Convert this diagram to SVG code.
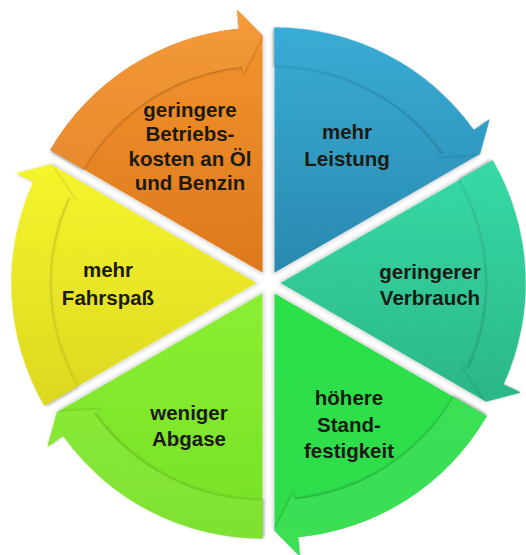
<svg xmlns="http://www.w3.org/2000/svg" width="526" height="555" viewBox="0 0 526 555">
<defs>
<style>
.lbl{font-family:"Liberation Sans",Arial,sans-serif;font-weight:700;font-size:20.5px;fill:#1c1a14;text-anchor:middle}
.band{filter:url(#bandsh)}
.body{filter:url(#shadow)}
</style>
<filter id="shadow" x="-10%" y="-10%" width="120%" height="120%">
<feDropShadow dx="1" dy="2" stdDeviation="2" flood-color="#000" flood-opacity="0.22"/>
</filter>
<filter id="bandsh" x="-10%" y="-10%" width="120%" height="120%">
<feDropShadow dx="0" dy="1.5" stdDeviation="1.2" flood-color="#000" flood-opacity="0.25"/>
</filter>
<path id="wbody" d="M0,0 L-212.176,-122.5 A245,245 0 0 1 -23.482,-243.872 L-25.303,-262.785 L0,-237 Z"/>
<path id="wband" d="M-212.176,-122.5 A245,245 0 0 1 -23.482,-243.872 L-25.303,-262.785 L0,-237 L-19.169,-199.079 L-19.840,-206.047 A207,207 0 0 0 -179.267,-103.5 Z"/>
<linearGradient id="gO" gradientUnits="userSpaceOnUse" x1="-75" y1="-255" x2="-75" y2="-5"><stop offset="0" stop-color="#F4952F"/><stop offset="1" stop-color="#DE781C"/></linearGradient>
<linearGradient id="gB" gradientUnits="userSpaceOnUse" x1="-183.3" y1="-192.5" x2="33.3" y2="-67.5"><stop offset="0" stop-color="#39AED7"/><stop offset="1" stop-color="#2A89B0"/></linearGradient>
<linearGradient id="gT" gradientUnits="userSpaceOnUse" x1="-183.3" y1="-67.5" x2="33.3" y2="-192.5"><stop offset="0" stop-color="#37DAA7"/><stop offset="1" stop-color="#2BB588"/></linearGradient>
<linearGradient id="gG" gradientUnits="userSpaceOnUse" x1="-75" y1="-5" x2="-75" y2="-255"><stop offset="0" stop-color="#2BE14A"/><stop offset="1" stop-color="#30DC4B"/></linearGradient>
<linearGradient id="gL" gradientUnits="userSpaceOnUse" x1="33.3" y1="-67.5" x2="-183.3" y2="-192.5"><stop offset="0" stop-color="#8AEF31"/><stop offset="1" stop-color="#76DF26"/></linearGradient>
<linearGradient id="gY" gradientUnits="userSpaceOnUse" x1="33.3" y1="-192.5" x2="-183.3" y2="-67.5"><stop offset="0" stop-color="#F6F62C"/><stop offset="1" stop-color="#DCD720"/></linearGradient>
</defs>
<rect width="526" height="555" fill="#fff"/>
<g id="node-orange">
<g transform="translate(268.5,283) rotate(0) translate(-6,-10.392)">
<use href="#wbody" class="body" fill="url(#gO)"/>
<use href="#wband" class="band" fill="url(#gO)"/>
<use href="#wband" fill="#fff" fill-opacity="0.05"/>
</g>
<text class="lbl" x="190" y="117">geringere</text>
<text class="lbl" x="190" y="141">Betriebs-</text>
<text class="lbl" x="190" y="166">kosten an Öl</text>
<text class="lbl" x="190" y="190">und Benzin</text>
</g>
<g id="node-blue">
<g transform="translate(268.5,283) rotate(60) translate(-6,-10.392)">
<use href="#wbody" class="body" fill="url(#gB)"/>
<use href="#wband" class="band" fill="url(#gB)"/>
</g>
<text class="lbl" x="347" y="139">mehr</text>
<text class="lbl" x="347" y="166">Leistung</text>
</g>
<g id="node-teal">
<g transform="translate(268.5,283) rotate(120) translate(-6,-10.392)">
<use href="#wbody" class="body" fill="url(#gT)"/>
<use href="#wband" class="band" fill="url(#gT)"/>
</g>
<text class="lbl" x="430" y="279">geringerer</text>
<text class="lbl" x="430" y="305">Verbrauch</text>
</g>
<g id="node-green">
<g transform="translate(268.5,283) rotate(180) translate(-6,-10.392)">
<use href="#wbody" class="body" fill="url(#gG)"/>
<use href="#wband" class="band" fill="url(#gG)"/>
<use href="#wband" fill="#fff" fill-opacity="0.06"/>
</g>
<text class="lbl" x="349" y="405">höhere</text>
<text class="lbl" x="349" y="432">Stand-</text>
<text class="lbl" x="349" y="458">festigkeit</text>
</g>
<g id="node-lightgreen">
<g transform="translate(268.5,283) rotate(240) translate(-6,-10.392)">
<use href="#wbody" class="body" fill="url(#gL)"/>
<use href="#wband" class="band" fill="url(#gL)"/>
<use href="#wband" fill="#fff" fill-opacity="0.06"/>
</g>
<text class="lbl" x="189" y="420">weniger</text>
<text class="lbl" x="189" y="446">Abgase</text>
</g>
<g id="node-yellow">
<g transform="translate(268.5,283) rotate(300) translate(-6,-10.392)">
<use href="#wbody" class="body" fill="url(#gY)"/>
<use href="#wband" class="band" fill="url(#gY)"/>
</g>
<text class="lbl" x="108" y="277">mehr</text>
<text class="lbl" x="108" y="305">Fahrspaß</text>
</g>
<g id="connectors"/>
</svg>
